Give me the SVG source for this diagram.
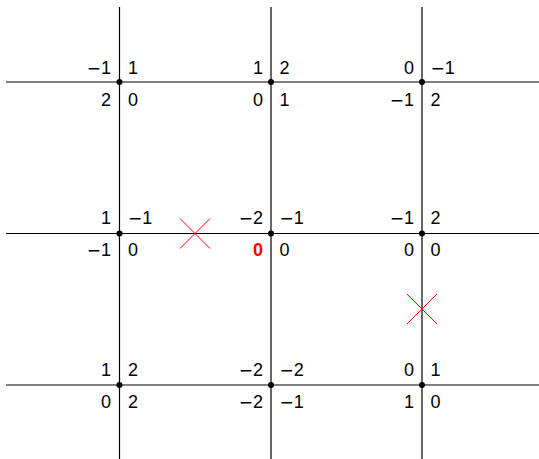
<svg xmlns="http://www.w3.org/2000/svg" width="539" height="459" viewBox="0 0 539 459">
<style>
.ln{stroke:#000;stroke-width:1.2;fill:none}
.dot{fill:#000}
text{font-family:"Liberation Sans",Arial,sans-serif;font-size:18px;fill:#000}
.m{font-family:"DejaVu Sans",sans-serif;font-size:17px}
.l{text-anchor:end}
.r{text-anchor:start}
.red{fill:#ff0000;font-weight:bold}
.x{stroke:#ff0000;stroke-width:1;fill:none}
</style>
<rect width="539" height="459" fill="#fff"/>
<g id="connectors">
<line class="ln" x1="6" y1="82" x2="539" y2="82"/>
<line class="ln" x1="6" y1="233.5" x2="539" y2="233.5"/>
<line class="ln" x1="6" y1="385" x2="539" y2="385"/>
<line class="ln" x1="119.5" y1="7" x2="119.5" y2="459"/>
<line class="ln" x1="271" y1="7" x2="271" y2="459"/>
<line class="ln" x1="422" y1="7" x2="422" y2="459"/>
</g>
<g id="n11"><circle class="dot" cx="119.5" cy="82" r="3"/>
<text class="l" x="111" y="73.5"><tspan class="m">−</tspan>1</text><text class="r" x="128" y="73.5">1</text>
<text class="l" x="111" y="105.5">2</text><text class="r" x="128" y="105.5">0</text></g>
<g id="n12"><circle class="dot" cx="271" cy="82" r="3"/>
<text class="l" x="263" y="73.5">1</text><text class="r" x="279.5" y="73.5">2</text>
<text class="l" x="263" y="105.5">0</text><text class="r" x="279.5" y="105.5">1</text></g>
<g id="n13"><circle class="dot" cx="422" cy="82" r="3"/>
<text class="l" x="414" y="73.5">0</text><text class="r" x="430.5" y="73.5"><tspan class="m">−</tspan>1</text>
<text class="l" x="414" y="105.5"><tspan class="m">−</tspan>1</text><text class="r" x="430.5" y="105.5">2</text></g>
<g id="n21"><circle class="dot" cx="119.5" cy="233.5" r="3"/>
<text class="l" x="111" y="224">1</text><text class="r" x="128" y="224"><tspan class="m">−</tspan>1</text>
<text class="l" x="111" y="256"><tspan class="m">−</tspan>1</text><text class="r" x="128" y="256">0</text></g>
<g id="n22"><circle class="dot" cx="271" cy="233.5" r="3"/>
<text class="l" x="263" y="224"><tspan class="m">−</tspan>2</text><text class="r" x="279.5" y="224"><tspan class="m">−</tspan>1</text>
<text class="l red" x="263" y="256">0</text><text class="r" x="279.5" y="256">0</text></g>
<g id="n23"><circle class="dot" cx="422" cy="233.5" r="3"/>
<text class="l" x="414" y="224"><tspan class="m">−</tspan>1</text><text class="r" x="430.5" y="224">2</text>
<text class="l" x="414" y="256">0</text><text class="r" x="430.5" y="256">0</text></g>
<g id="n31"><circle class="dot" cx="119.5" cy="385" r="3"/>
<text class="l" x="111" y="376">1</text><text class="r" x="128" y="376">2</text>
<text class="l" x="111" y="408">0</text><text class="r" x="128" y="408">2</text></g>
<g id="n32"><circle class="dot" cx="271" cy="385" r="3"/>
<text class="l" x="263" y="376"><tspan class="m">−</tspan>2</text><text class="r" x="279.5" y="376"><tspan class="m">−</tspan>2</text>
<text class="l" x="263" y="408"><tspan class="m">−</tspan>2</text><text class="r" x="279.5" y="408"><tspan class="m">−</tspan>1</text></g>
<g id="n33"><circle class="dot" cx="422" cy="385" r="3"/>
<text class="l" x="414" y="376">0</text><text class="r" x="430.5" y="376">1</text>
<text class="l" x="414" y="408">1</text><text class="r" x="430.5" y="408">0</text></g>
<g id="cross1"><path class="x" d="M180 218.5L210 248.5M210 218.5L180 248.5"/></g>
<g id="cross2"><path class="x" d="M407 294L437 324M437 294L407 324"/></g>
</svg>
